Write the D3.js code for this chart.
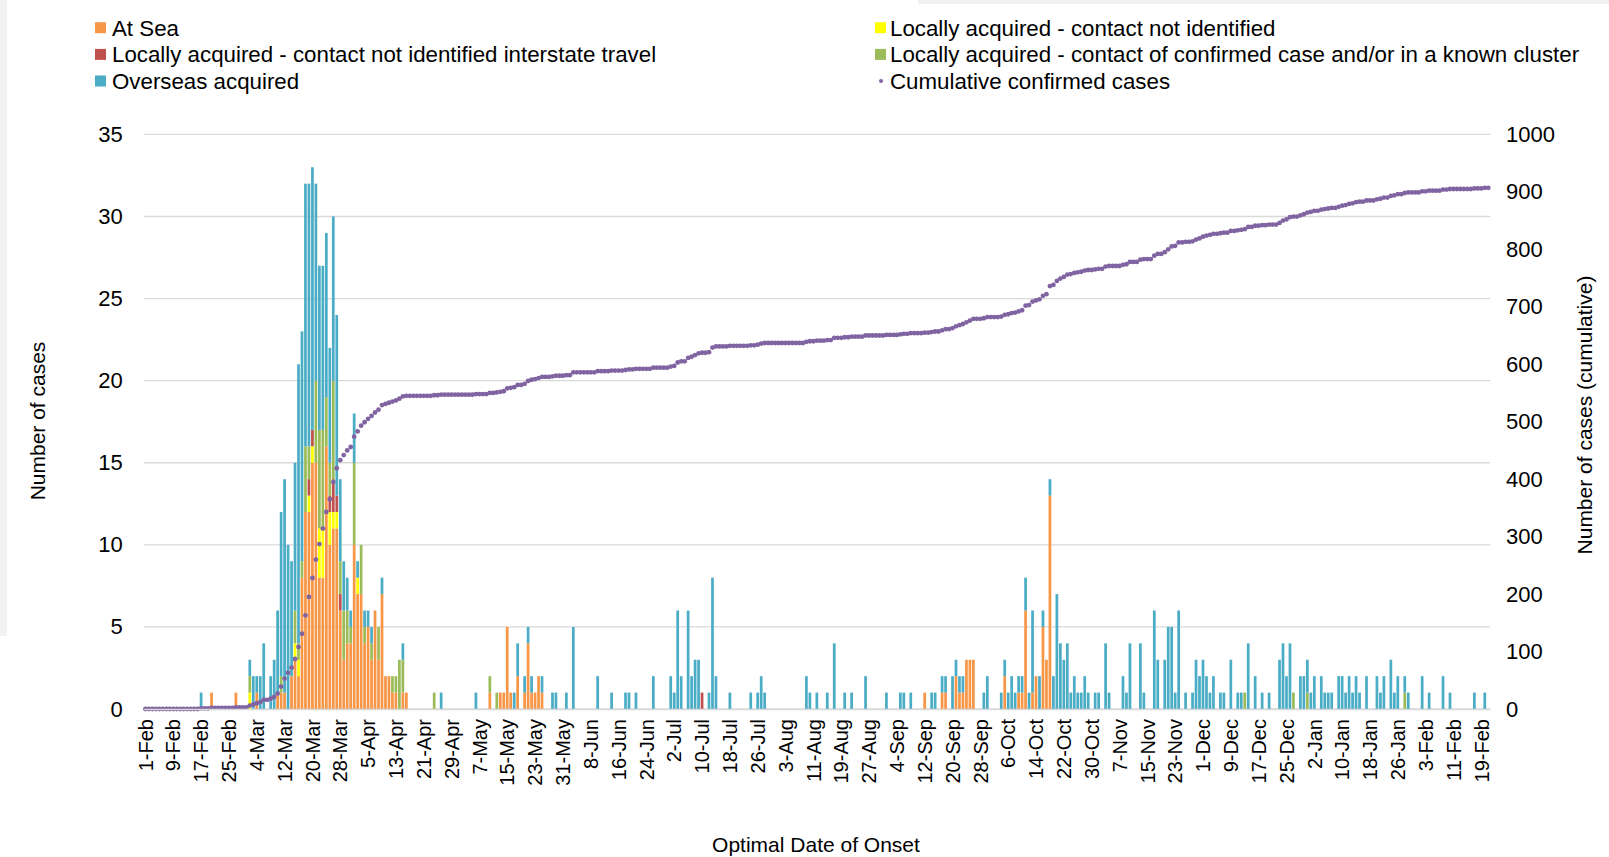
<!DOCTYPE html>
<html>
<head>
<meta charset="utf-8">
<script src="https://cdn.jsdelivr.net/npm/d3@7"></script>
<style>
  body { margin: 0; background: #fff; }
  svg text { font-family: "Liberation Sans", Arial, sans-serif; }
</style>
</head>
<body>
<div id="chart"></div>
<script>
// first and last day on the category axis
const startDate = "2020-02-01";
const endDate = "2021-02-21";

// daily cases by source of infection, [date, count], only days with cases
const atSea = [
  ["2020-02-20",1],["2020-02-27",1],["2020-03-04",1],["2020-03-10",1],["2020-03-11",1],["2020-03-12",1],
  ["2020-03-14",2],["2020-03-15",3],["2020-03-16",2],["2020-03-17",8],["2020-03-18",12],["2020-03-19",12],
  ["2020-03-20",15],["2020-03-21",15],["2020-03-22",8],["2020-03-23",8],["2020-03-24",16],["2020-03-25",10],
  ["2020-03-26",11],["2020-03-27",11],["2020-03-28",6],["2020-03-29",3],["2020-03-30",4],["2020-03-31",4],
  ["2020-04-01",10],["2020-04-02",7],["2020-04-03",7],["2020-04-04",4],["2020-04-05",5],["2020-04-06",3],
  ["2020-04-07",6],["2020-04-08",3],["2020-04-09",7],["2020-04-10",2],["2020-04-11",2],["2020-04-12",1],
  ["2020-04-13",1],["2020-04-15",1],["2020-04-16",1],
  ["2020-05-10",1],["2020-05-13",1],["2020-05-14",1],["2020-05-15",5],["2020-05-16",1],["2020-05-18",2],
  ["2020-05-20",1],["2020-05-21",4],["2020-05-22",1],["2020-05-23",1],["2020-05-24",2],["2020-05-25",1],
  ["2020-09-12",1],["2020-09-17",1],["2020-09-18",1],["2020-09-21",2],["2020-09-22",1],["2020-09-23",1],
  ["2020-09-24",3],["2020-09-25",3],["2020-09-26",3],
  ["2020-10-05",2],["2020-10-09",1],["2020-10-10",1],["2020-10-11",6],["2020-10-13",1],["2020-10-14",2],
  ["2020-10-16",5],["2020-10-17",3],["2020-10-18",13]
];

const localNotIdentified = [
  ["2020-03-02",1],["2020-03-15",1],["2020-03-16",1],["2020-03-19",1],["2020-03-20",1],["2020-03-22",3],
  ["2020-03-23",3],["2020-03-25",2],["2020-03-26",1],["2020-03-27",1],["2020-04-02",1]
];

const localInterstate = [
  ["2020-03-19",1],["2020-03-20",1],["2020-03-25",1],["2020-03-26",2],["2020-03-27",1],["2020-03-28",1],
  ["2020-07-10",1]
];

const localContact = [
  ["2020-03-02",1],["2020-03-11",1],["2020-03-15",2],["2020-03-16",1],["2020-03-17",1],["2020-03-18",4],
  ["2020-03-19",2],["2020-03-21",5],["2020-03-22",6],["2020-03-23",6],["2020-03-24",3],["2020-03-25",2],
  ["2020-03-26",6],["2020-03-28",2],["2020-03-29",3],["2020-03-30",2],["2020-03-31",1],["2020-04-01",5],
  ["2020-04-03",3],["2020-04-04",1],["2020-04-06",1],["2020-04-08",2],["2020-04-12",1],["2020-04-13",1],
  ["2020-04-14",3],["2020-04-15",2],["2020-04-24",1],["2020-05-10",1],["2020-05-12",1],
  ["2020-12-13",1],["2020-12-27",1],["2020-12-31",1],["2021-01-28",1]
];

const overseas = [
  ["2020-02-17",1],["2020-03-02",1],["2020-03-03",2],["2020-03-04",1],["2020-03-05",2],["2020-03-06",4],
  ["2020-03-08",2],["2020-03-09",3],["2020-03-10",5],["2020-03-11",10],["2020-03-12",13],["2020-03-13",10],
  ["2020-03-14",7],["2020-03-15",9],["2020-03-16",17],["2020-03-17",14],["2020-03-18",16],["2020-03-19",16],
  ["2020-03-20",16],["2020-03-21",12],["2020-03-22",10],["2020-03-23",10],["2020-03-24",10],["2020-03-25",7],
  ["2020-03-26",10],["2020-03-27",11],["2020-03-28",5],["2020-03-29",3],["2020-03-30",2],["2020-03-31",1],
  ["2020-04-01",3],["2020-04-02",1],["2020-04-04",1],["2020-04-05",1],["2020-04-06",1],["2020-04-09",1],
  ["2020-04-15",1],["2020-04-26",1],
  ["2020-05-06",1],["2020-05-17",1],["2020-05-18",2],["2020-05-20",1],["2020-05-21",1],["2020-05-22",1],
  ["2020-05-25",1],["2020-05-28",1],["2020-05-29",1],
  ["2020-06-01",1],["2020-06-03",5],["2020-06-10",2],["2020-06-14",1],["2020-06-18",1],["2020-06-19",1],
  ["2020-06-21",1],["2020-06-26",2],
  ["2020-07-01",2],["2020-07-02",1],["2020-07-03",6],["2020-07-04",2],["2020-07-06",6],["2020-07-07",2],
  ["2020-07-08",3],["2020-07-09",3],["2020-07-12",1],["2020-07-13",8],["2020-07-14",2],["2020-07-18",1],
  ["2020-07-24",1],["2020-07-26",1],["2020-07-27",2],["2020-07-28",1],
  ["2020-08-09",2],["2020-08-10",1],["2020-08-12",1],["2020-08-15",1],["2020-08-17",4],["2020-08-20",1],
  ["2020-08-22",1],["2020-08-26",2],
  ["2020-09-01",1],["2020-09-05",1],["2020-09-06",1],["2020-09-08",1],["2020-09-14",1],["2020-09-15",1],
  ["2020-09-17",1],["2020-09-18",1],["2020-09-20",2],["2020-09-21",1],["2020-09-22",1],["2020-09-23",1],
  ["2020-09-29",1],["2020-09-30",2],
  ["2020-10-04",1],["2020-10-05",1],["2020-10-06",1],["2020-10-07",2],["2020-10-08",1],["2020-10-09",1],
  ["2020-10-10",1],["2020-10-11",2],["2020-10-12",1],["2020-10-13",5],["2020-10-15",2],["2020-10-16",1],
  ["2020-10-18",1],["2020-10-19",2],["2020-10-20",7],["2020-10-21",4],["2020-10-22",3],["2020-10-23",4],
  ["2020-10-24",1],["2020-10-25",2],["2020-10-26",1],["2020-10-27",1],["2020-10-28",2],["2020-10-29",1],
  ["2020-10-31",1],
  ["2020-11-01",1],["2020-11-03",4],["2020-11-04",1],["2020-11-08",2],["2020-11-09",1],["2020-11-10",4],
  ["2020-11-13",4],["2020-11-14",1],["2020-11-17",6],["2020-11-18",3],["2020-11-20",3],["2020-11-21",5],
  ["2020-11-22",5],["2020-11-23",1],["2020-11-24",6],["2020-11-26",1],["2020-11-28",1],["2020-11-29",3],
  ["2020-11-30",2],
  ["2020-12-01",3],["2020-12-02",2],["2020-12-03",1],["2020-12-04",2],["2020-12-06",1],["2020-12-07",1],
  ["2020-12-09",3],["2020-12-11",1],["2020-12-12",1],["2020-12-14",4],["2020-12-16",2],["2020-12-18",1],
  ["2020-12-20",1],["2020-12-23",3],["2020-12-24",4],["2020-12-25",2],["2020-12-26",4],["2020-12-29",2],
  ["2020-12-30",2],["2020-12-31",2],
  ["2021-01-01",1],["2021-01-02",2],["2021-01-04",2],["2021-01-05",1],["2021-01-06",1],["2021-01-07",1],
  ["2021-01-09",2],["2021-01-10",2],["2021-01-11",1],["2021-01-12",2],["2021-01-13",1],["2021-01-14",2],
  ["2021-01-15",1],["2021-01-17",2],["2021-01-20",2],["2021-01-21",1],["2021-01-22",2],["2021-01-24",3],
  ["2021-01-25",1],["2021-01-26",2],["2021-01-28",1],["2021-01-29",1],
  ["2021-02-02",2],["2021-02-04",1],["2021-02-08",2],["2021-02-10",1],["2021-02-17",1],["2021-02-20",1]
];

const seriesKeys = ["atSea", "notIdentified", "interstate", "contact", "overseas"];
const seriesLabels = {
  atSea: "At Sea",
  notIdentified: "Locally acquired - contact not identified",
  interstate: "Locally acquired - contact not identified interstate travel",
  contact: "Locally acquired - contact of confirmed case and/or in a known cluster",
  overseas: "Overseas acquired",
  cumulative: "Cumulative confirmed cases"
};
// legend order as in the original (two columns, read across)
const legendOrder = ["atSea", "notIdentified", "interstate", "contact", "overseas", "cumulative"];

const leftTicks = [0, 5, 10, 15, 20, 25, 30, 35];
const rightTicks = [0, 100, 200, 300, 400, 500, 600, 700, 800, 900, 1000];
const xTickEvery = 8; // one date label every 8 days

const xLabel = "Optimal Date of Onset";
const yLabel = "Number of cases";
const y2Label = "Number of cases (cumulative)";

// ---- build the daily table ----
const parse = d3.utcParse("%Y-%m-%d");
const fmtKey = d3.utcFormat("%Y-%m-%d");
const fmtTick = d3.utcFormat("%-d-%b");

const days = d3.utcDay.range(parse(startDate), d3.utcDay.offset(parse(endDate), 1));
const rows = days.map((d) => {
  const r = { key: fmtKey(d) };
  seriesKeys.forEach((k) => (r[k] = 0));
  return r;
});
const byKey = new Map(rows.map((r) => [r.key, r]));
const sources = {
  atSea: atSea,
  notIdentified: localNotIdentified,
  interstate: localInterstate,
  contact: localContact,
  overseas: overseas
};
seriesKeys.forEach((k) => {
  sources[k].forEach(([day, n]) => {
    if (byKey.has(day)) byKey.get(day)[k] += n;
  });
});
const cumulative = d3.cumsum(rows, (r) => d3.sum(seriesKeys, (k) => r[k]));

// ---- layout ----
const W = 1609, H = 857;
const plotL = 143.7, plotR = 1490, plotT = 134.4, plotB = 709;

const color = d3.scaleOrdinal()
  .domain(seriesKeys)
  .range(["#F79646", "#FFFF00", "#C0504D", "#9BBB59", "#4BACC6"]);
const dotColor = "#8064A2";
const gridColor = "#D9D9D9";

const svg = d3.select("#chart").append("svg")
  .attr("width", W)
  .attr("height", H);

// faint page shadow seen on the edges of the original screenshot
svg.append("rect").attr("x", 0).attr("y", 0).attr("width", 7).attr("height", 636).attr("fill", "#f2f2f2");
svg.append("rect").attr("x", 918).attr("y", 0).attr("width", W - 918).attr("height", 4).attr("fill", "#f0f0f0");

const x = d3.scaleBand()
  .domain(rows.map((r) => r.key))
  .range([plotL, plotR])
  .paddingInner(0.22)
  .paddingOuter(0.11);

const y = d3.scaleLinear().domain([0, 35]).range([plotB, plotT]);
const y2 = d3.scaleLinear().domain([0, 1000]).range([plotB, plotT]);

// gridlines
svg.append("g")
  .selectAll("line")
  .data(leftTicks)
  .join("line")
  .attr("x1", plotL)
  .attr("x2", plotR)
  .attr("y1", (d) => y(d))
  .attr("y2", (d) => y(d))
  .attr("stroke", gridColor)
  .attr("stroke-width", 1.3);

// stacked bars
const stacked = d3.stack().keys(seriesKeys)(rows);
svg.append("g")
  .selectAll("g")
  .data(stacked)
  .join("g")
  .attr("fill", (s) => color(s.key))
  .selectAll("rect")
  .data((s) => s.filter((d) => d[1] > d[0]))
  .join("rect")
  .attr("x", (d) => x(d.data.key))
  .attr("width", x.bandwidth())
  .attr("y", (d) => y(d[1]))
  .attr("height", (d) => y(d[0]) - y(d[1]));

// cumulative dots
svg.append("g")
  .selectAll("circle")
  .data(rows)
  .join("circle")
  .attr("cx", (r) => x(r.key) + x.bandwidth() / 2)
  .attr("cy", (r, i) => y2(cumulative[i]))
  .attr("r", 2.4)
  .attr("fill", dotColor);

// x axis
const xAxis = d3.axisBottom(x)
  .tickValues(rows.filter((r, i) => i % xTickEvery === 0).map((r) => r.key))
  .tickFormat((k) => fmtTick(parse(k)))
  .tickSize(0);

const gx = svg.append("g")
  .attr("transform", `translate(0,${plotB})`)
  .call(xAxis);
gx.select(".domain").attr("stroke", gridColor).attr("stroke-width", 1.3);
gx.selectAll("text")
  .attr("transform", "rotate(-90)")
  .attr("x", -10)
  .attr("y", 0)
  .attr("dy", "0.36em")
  .attr("text-anchor", "end")
  .attr("fill", "#000")
  .style("font-size", "20px");

// left axis
const gy = svg.append("g")
  .attr("transform", `translate(${plotL},0)`)
  .call(d3.axisLeft(y).tickValues(leftTicks).tickSize(0).tickPadding(21));
gy.select(".domain").remove();
gy.selectAll("text").attr("fill", "#000").style("font-size", "22px");

// right axis
const gy2 = svg.append("g")
  .attr("transform", `translate(${plotR},0)`)
  .call(d3.axisRight(y2).tickValues(rightTicks).tickFormat(d3.format("d")).tickSize(0).tickPadding(16));
gy2.select(".domain").remove();
gy2.selectAll("text").attr("fill", "#000").style("font-size", "22px");

// axis titles
svg.append("text")
  .attr("x", 816)
  .attr("y", 845)
  .attr("dy", "0.35em")
  .attr("text-anchor", "middle")
  .style("font-size", "21px")
  .text(xLabel);

svg.append("text")
  .attr("transform", "translate(38,421) rotate(-90)")
  .attr("dy", "0.35em")
  .attr("text-anchor", "middle")
  .style("font-size", "21px")
  .text(yLabel);

svg.append("text")
  .attr("transform", "translate(1585,415) rotate(-90)")
  .attr("dy", "0.35em")
  .attr("text-anchor", "middle")
  .style("font-size", "21px")
  .text(y2Label);

// legend: two columns of three rows
const legendCols = [95, 875];
const legendRows = [27.7, 54.4, 81];
const legend = svg.append("g")
  .selectAll("g")
  .data(legendOrder)
  .join("g")
  .attr("transform", (k, i) => `translate(${legendCols[i % 2]},${legendRows[Math.floor(i / 2)]})`);

legend.filter((k) => k !== "cumulative")
  .append("rect")
  .attr("x", 0)
  .attr("y", -5.5)
  .attr("width", 11)
  .attr("height", 11)
  .attr("fill", (k) => color(k));

legend.filter((k) => k === "cumulative")
  .append("circle")
  .attr("cx", 6)
  .attr("cy", 0)
  .attr("r", 2)
  .attr("fill", dotColor);

legend.append("text")
  .attr("x", (k, i) => (i % 2 === 0 ? 17 : 15))
  .attr("y", 0)
  .attr("dy", "0.36em")
  .style("font-size", "22.3px")
  .text((k) => seriesLabels[k]);
</script>
</body>
</html>
